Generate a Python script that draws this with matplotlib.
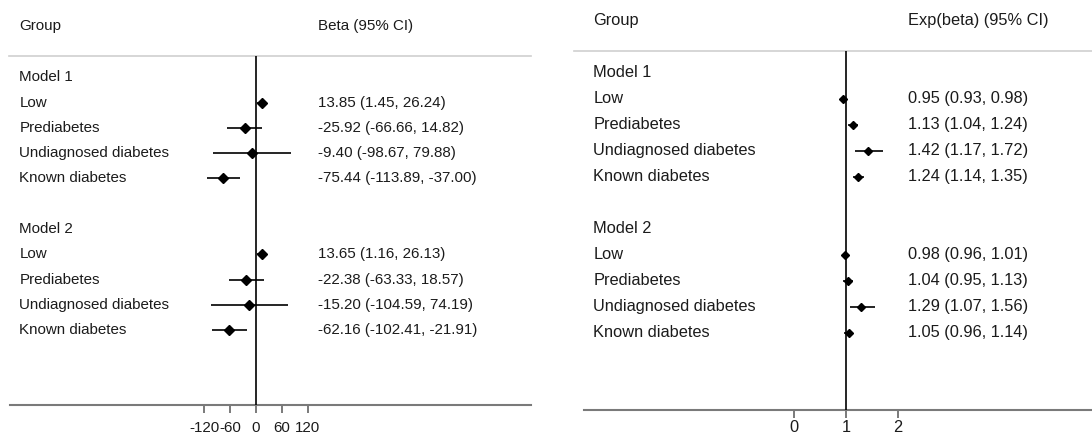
import matplotlib.pyplot as plt
import matplotlib.transforms as mtransforms

plt.rcParams['font.family'] = ['Liberation Sans', 'DejaVu Sans']

groups = ['Low', 'Prediabetes', 'Undiagnosed diabetes', 'Known diabetes']
models = ['Model 1', 'Model 2']

# linear model: beta and 95% CI
beta = [[13.85, -25.92, -9.40, -75.44],
        [13.65, -22.38, -15.20, -62.16]]
beta_lo = [[1.45, -66.66, -98.67, -113.89],
           [1.16, -63.33, -104.59, -102.41]]
beta_hi = [[26.24, 14.82, 79.88, -37.00],
           [26.13, 18.57, 74.19, -21.91]]

# log-link model: exp(beta) and 95% CI
expb = [[0.95, 1.13, 1.42, 1.24],
        [0.98, 1.04, 1.29, 1.05]]
expb_lo = [[0.93, 1.04, 1.17, 1.14],
           [0.96, 0.95, 1.07, 0.96]]
expb_hi = [[0.98, 1.24, 1.72, 1.35],
           [1.01, 1.13, 1.56, 1.14]]

beta_ticks = [-120, -60, 0, 60, 120]
expb_ticks = [0, 1, 2]

W, H = 1092, 436
fig = plt.figure(figsize=(W / 100, H / 100), dpi=100)
TXT = '#1b1b1b'


def panel(px_left, px_right, px_axis, px_top, ref, ref_px, px_per_unit,
          est, lo, hi, ticks, header, col_px, fs, ms, top_left_px, row_step,
          pad):
    ax = fig.add_axes([px_left / W, 1 - px_axis / H,
                       (px_right - px_left) / W, (px_axis - px_top) / H])
    ax.set_xlim(ref + (px_left - ref_px) / px_per_unit,
                ref + (px_right - ref_px) / px_per_unit)
    # rows: 0 = "Model 1", 1-4 groups, 6 = "Model 2", 7-10 groups
    row0_px = px_top + 0.84 * row_step
    ax.set_ylim((px_axis - row0_px) / row_step, (px_top - row0_px) / row_step)

    tr = mtransforms.blended_transform_factory(ax.transAxes, ax.transData)
    gx = 0.018
    vx = (col_px - px_left) / (px_right - px_left)

    ax.axvline(ref, color='black', lw=1.2, zorder=3)
    for m, name in enumerate(models):
        base = m * 6
        ax.text(gx, base, name, transform=tr, va='center', fontsize=fs, color=TXT)
        for i, g in enumerate(groups):
            y = base + i + 1
            ax.text(gx, y, g, transform=tr, va='center', fontsize=fs, color=TXT)
            ax.plot([lo[m][i], hi[m][i]], [y, y], color='black', lw=1.2,
                    solid_capstyle='butt', zorder=4)
            ax.plot(est[m][i], y, marker='D', ms=ms, color='black', zorder=5)
            ax.text(vx, y, f'{est[m][i]:.2f} ({lo[m][i]:.2f}, {hi[m][i]:.2f})',
                    transform=tr, va='center', fontsize=fs, color=TXT)

    # column headers above the grey rule
    hy = (px_top - 30 - row0_px) / row_step
    ax.text(gx, hy, 'Group', transform=tr, va='center', fontsize=fs,
            color=TXT, clip_on=False)
    ax.text(vx, hy, header, transform=tr, va='center', fontsize=fs,
            color=TXT, clip_on=False)
    tl = (top_left_px - px_left) / (px_right - px_left)
    ax.plot([tl, 1], [1, 1], transform=ax.transAxes, color='#cfcfcf',
            lw=1.2, clip_on=False)

    for s in ['top', 'left', 'right']:
        ax.spines[s].set_visible(False)
    ax.spines['bottom'].set_color('#7a7a7a')
    ax.spines['bottom'].set_linewidth(1.5)
    ax.set_yticks([])
    ax.set_xticks(ticks)
    ax.set_xticklabels([str(t) for t in ticks])
    ax.tick_params(axis='x', length=5.5, width=1.4, color='#7a7a7a',
                   labelsize=fs, labelcolor=TXT, pad=pad)
    return ax


panel(10, 531, 404.5, 56, 0, 256, 0.433, beta, beta_lo, beta_hi,
      beta_ticks, 'Beta (95% CI)', 318, 10.9, 5.4, 9, 25.3, 6.5)
panel(584, 1092, 410, 51, 1, 846, 52, expb, expb_lo, expb_hi,
      expb_ticks, 'Exp(beta) (95% CI)', 908, 11.8, 4.2, 574, 26.0, 1.5)

fig.savefig('out.png', dpi=100, facecolor='white')
